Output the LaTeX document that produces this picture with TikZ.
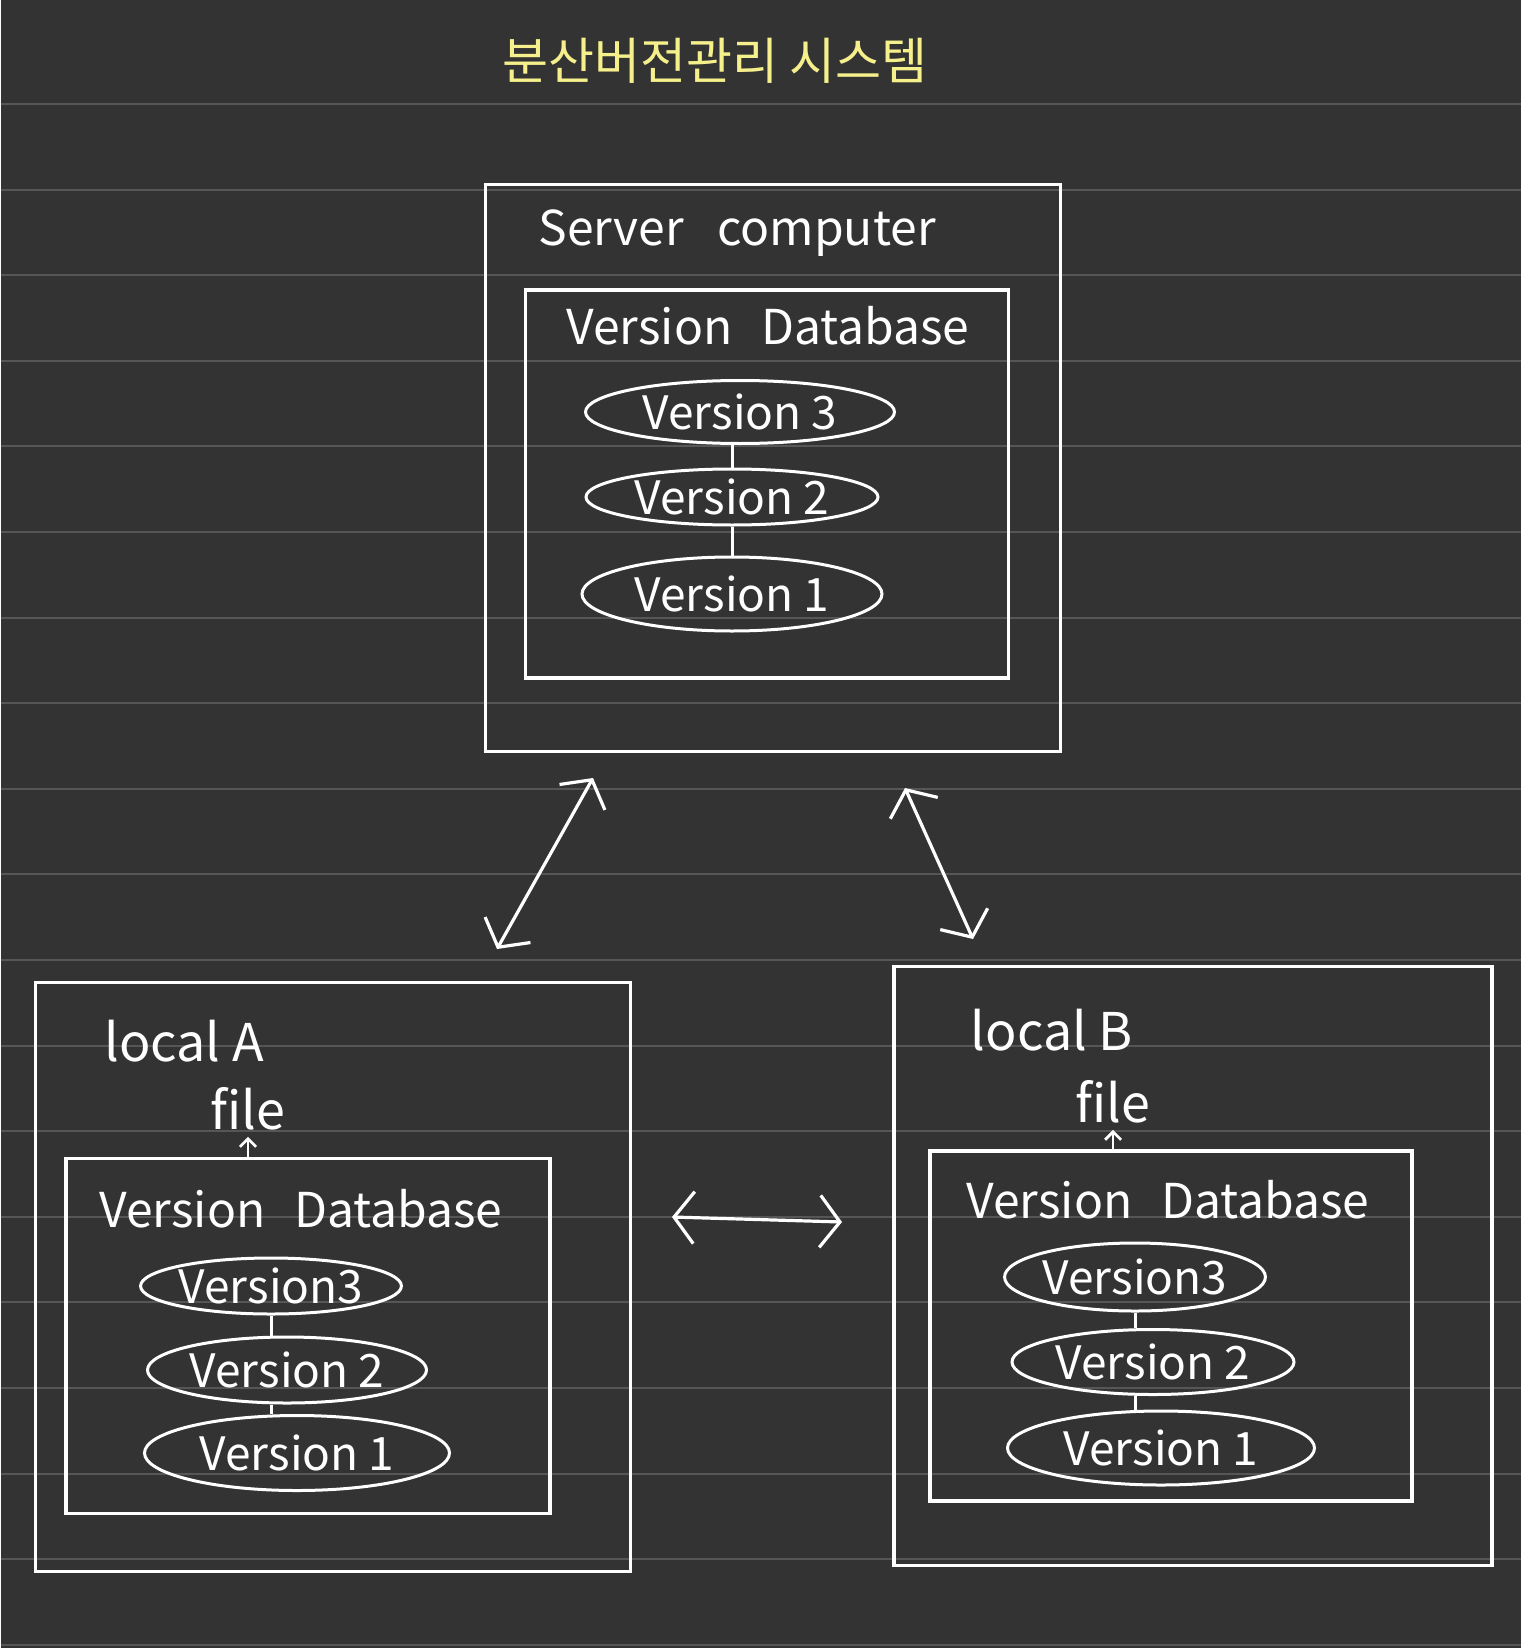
\documentclass[tikz,border=0pt]{standalone}
\usepackage{fontspec}
\setmainfont{Noto Sans CJK KR}
\usepackage{xcolor}
\usepackage{tikz}
\usetikzlibrary{arrows.meta,shapes.geometric}
\definecolor{boardgray}{HTML}{333333}
\definecolor{ruleline}{HTML}{565656}
\definecolor{chalkyellow}{HTML}{F6F08C}

\begin{document}
\begin{tikzpicture}[x=0.5pt,y=-0.5pt,
    box/.style={draw=white,line width=1.6pt,inner sep=0pt},
    verbox/.style={draw=white,line width=1.5pt,ellipse,inner sep=0pt,text=white,font=\fontsize{23}{23}\selectfont},
    lbl/.style={text=white,inner sep=0pt,font=\fontsize{24}{24}\selectfont},
    tag/.style={text=white,inner sep=0pt,font=\fontsize{26}{26}\selectfont},
    link/.style={draw=white,line width=1.5pt},
    sync/.style={draw=white,line width=1.6pt,{Straight Barb[length=10pt,width=26pt]}-{Straight Barb[length=10pt,width=26pt]}},
    up/.style={draw=white,line width=1.4pt,-{Straight Barb[length=4pt,width=8pt]}}]
    \fill[boardgray] (0,0) rectangle (1520,1648);
    \foreach \k in {0,...,18}
        \draw[ruleline,line width=1pt] (0,104+85.6*\k) -- (1520,104+85.6*\k);
    \node[text=chalkyellow,font=\fontsize{25}{25}\selectfont] (title) at (714,61) {분산버전관리 시스템};
    % server
    \node[box,minimum width=287.5pt,minimum height=283.5pt] (server) at (772,468) {};
    \node[lbl] (srvname) at (736,233) {Server\hspace{0.7em}computer};
    \node[box,minimum width=241.5pt,minimum height=194pt] (srvdb) at (766,484) {};
    \node[lbl] (srvdbname) at (767,326) {Version\hspace{0.6em}Database};
    \node[verbox,minimum width=154.5pt,minimum height=31.5pt] (sv3) at (739,412) {Version 3};
    \node[verbox,minimum width=146pt,minimum height=28pt] (sv2) at (731,497) {Version 2};
    \node[verbox,minimum width=150pt,minimum height=37pt] (sv1) at (731,594) {Version 1};
    \draw[link] (sv2.north) -- (sv2.north |- sv3.south);
    \draw[link] (sv2.south) -- (sv2.south |- sv1.north);
    % local A
    \node[box,minimum width=297.5pt,minimum height=294.5pt] (locala) at (332,1277) {};
    \node[tag] (localaname) at (183,1041) {local A};
    \node[tag] (afile) at (247,1109) {file};
    \node[box,minimum width=242pt,minimum height=177.5pt] (adb) at (307,1336) {};
    \node[lbl] (adbname) at (300,1209) {Version\hspace{0.6em}Database};
    \node[verbox,minimum width=126pt,minimum height=28pt] (av3) at (270,1286) {Version3};
    \node[verbox,minimum width=139.5pt,minimum height=33pt] (av2) at (286,1370) {Version 2};
    \node[verbox,minimum width=152.5pt,minimum height=37.5pt] (av1) at (296,1453) {Version 1};
    \draw[link] (av3.south) -- (av3.south |- av2.north);
    \draw[link] (av3.south |- av2.south) -- (av3.south |- av1.north);
    \draw[up] (afile.south |- adb.north) -- ([yshift=-3pt]afile.south);
    % local B
    \node[box,minimum width=299pt,minimum height=299.5pt] (localb) at (1192,1266) {};
    \node[tag] (localbname) at (1051,1030) {local B};
    \node[tag] (bfile) at (1112,1102) {file};
    \node[box,minimum width=241pt,minimum height=175pt] (bdb) at (1170,1326) {};
    \node[lbl] (bdbname) at (1167,1200) {Version\hspace{0.6em}Database};
    \node[verbox,minimum width=125pt,minimum height=34pt] (bv3) at (1134,1277) {Version3};
    \node[verbox,minimum width=141pt,minimum height=32.5pt] (bv2) at (1152,1362) {Version 2};
    \node[verbox,minimum width=153.5pt,minimum height=37pt] (bv1) at (1160,1448) {Version 1};
    \draw[link] (bv3.south) -- (bv3.south |- bv2.north);
    \draw[link] (bv3.south |- bv2.south) -- (bv3.south |- bv1.north);
    \draw[up] (bfile.south |- bdb.north) -- ([yshift=-3pt]bfile.south);
    % sync arrows
    \coordinate (sa1) at (592,778);
    \coordinate (sa2) at (496,949);
    \coordinate (sb1) at (904,788);
    \coordinate (sb2) at (972,939);
    \coordinate (ab1) at (671,1217);
    \coordinate (ab2) at (841,1222);
    \draw[sync] (sa1) -- (sa2);
    \draw[sync] (sb1) -- (sb2);
    \draw[sync] (ab1) -- (ab2);
\end{tikzpicture}
\end{document}
